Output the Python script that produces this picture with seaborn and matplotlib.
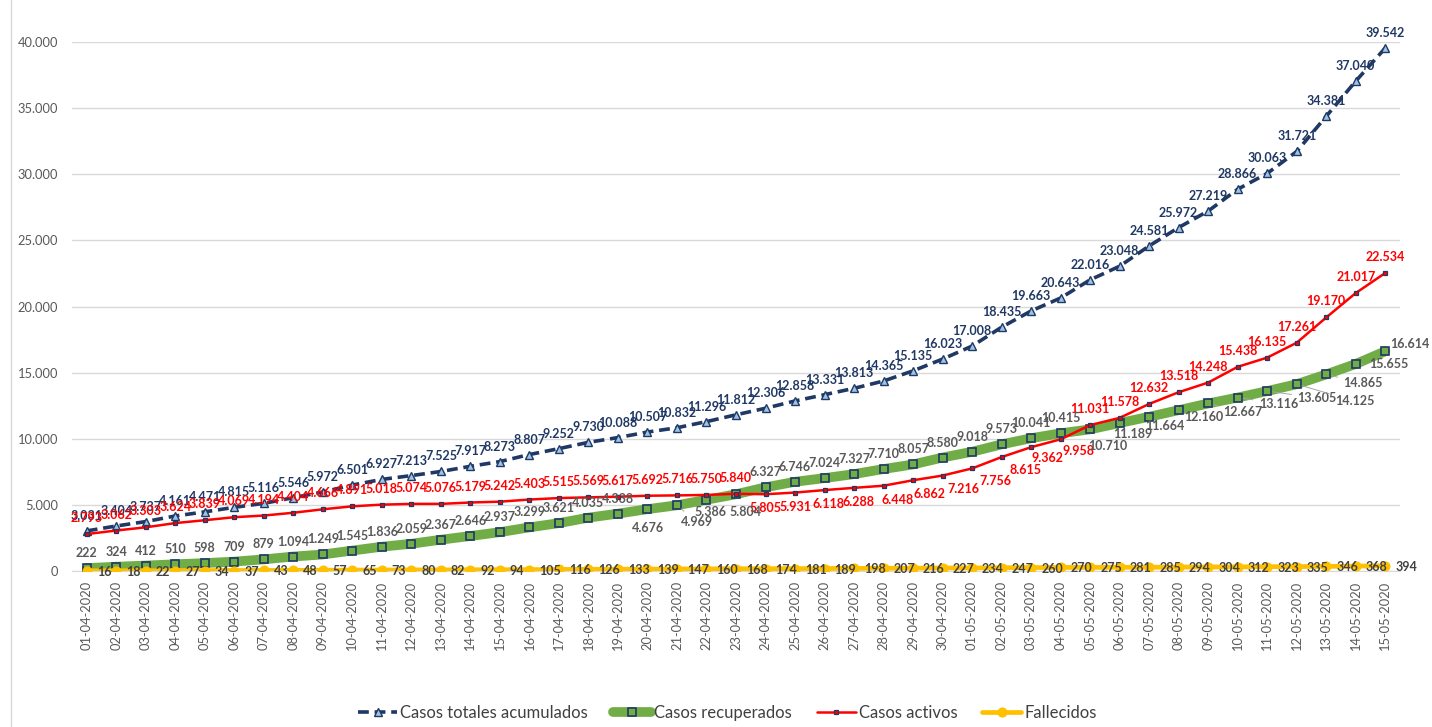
import numpy as np
import pandas as pd
import matplotlib
matplotlib.use("Agg")
import matplotlib.pyplot as plt
from matplotlib.lines import Line2D
import seaborn as sns

# Datos (01-04-2020 a 15-05-2020)
fechas = pd.date_range("2020-04-01", "2020-05-15").strftime("%d-%m-%Y").tolist()

casos_totales = [3031, 3404, 3737, 4161, 4471, 4815, 5116, 5546, 5972, 6501,
                 6927, 7213, 7525, 7917, 8273, 8807, 9252, 9730, 10088, 10507,
                 10832, 11296, 11812, 12306, 12858, 13331, 13813, 14365, 15135, 16023,
                 17008, 18435, 19663, 20643, 22016, 23048, 24581, 25972, 27219, 28866,
                 30063, 31721, 34381, 37040, 39542]
casos_recuperados = [222, 324, 412, 510, 598, 709, 879, 1094, 1249, 1545,
                     1836, 2059, 2367, 2646, 2937, 3299, 3621, 4035, 4338, 4676,
                     4969, 5386, 5804, 6327, 6746, 7024, 7327, 7710, 8057, 8580,
                     9018, 9573, 10041, 10415, 10710, 11189, 11664, 12160, 12667, 13116,
                     13605, 14125, 14865, 15655, 16614]
casos_activos = [2793, 3062, 3303, 3624, 3839, 4069, 4194, 4404, 4666, 4891,
                 5018, 5074, 5076, 5179, 5242, 5403, 5515, 5569, 5617, 5692,
                 5716, 5750, 5840, 5805, 5931, 6118, 6288, 6448, 6862, 7216,
                 7756, 8615, 9362, 9958, 11031, 11578, 12632, 13518, 14248, 15438,
                 16135, 17261, 19170, 21017, 22534]
fallecidos = [16, 18, 22, 27, 34, 37, 43, 48, 57, 65,
              73, 80, 82, 92, 94, 105, 116, 126, 133, 139,
              147, 160, 168, 174, 181, 189, 198, 207, 216, 227,
              234, 247, 260, 270, 275, 281, 285, 294, 304, 312,
              323, 335, 346, 368, 394]

NAVY = "#1F3864"
GREEN = "#70AD47"
RED = "#FF0000"
GOLD = "#FFC000"
GREY = "#595959"

sns.set_style("white")
plt.rcParams["font.family"] = ["Lato", "DejaVu Sans"]

fig = plt.figure(figsize=(14.32, 7.27), dpi=100)
ax = fig.add_axes([72 / 1432, 1 - 571 / 727, 1328 / 1432, 529 / 727])

x = np.arange(len(fechas))

sns.lineplot(x=x, y=casos_totales, ax=ax, color=NAVY, linewidth=2.6,
             linestyle=(0, (3, 1.6)), marker="^", markersize=5.5,
             markerfacecolor="#9DC3E6", markeredgecolor=NAVY, markeredgewidth=1,
             label="Casos totales acumulados", zorder=2)
sns.lineplot(x=x, y=casos_recuperados, ax=ax, color=GREEN, linewidth=7,
             marker="s", markersize=5.2, markerfacecolor=GREEN,
             markeredgecolor=NAVY, markeredgewidth=1.2,
             label="Casos recuperados", zorder=3)
sns.lineplot(x=x, y=casos_activos, ax=ax, color=RED, linewidth=1.8,
             marker="s", markersize=3.2, markerfacecolor=RED,
             markeredgecolor=NAVY, markeredgewidth=0.9,
             label="Casos activos", zorder=4)
sns.lineplot(x=x, y=fallecidos, ax=ax, color=GOLD, linewidth=3.4,
             marker="o", markersize=6.5, markerfacecolor=GOLD,
             markeredgecolor=GOLD, label="Fallecidos", zorder=5)


def fmt(v):
    return f"{v:,}".replace(",", ".")


lab_kw = dict(textcoords="offset pixels", fontsize=9.0, fontweight="bold", zorder=10)
leader = dict(arrowstyle="-", color="#A6A6A6", lw=0.7, shrinkA=2, shrinkB=4)

# etiquetas totales: arriba
for i, v in enumerate(casos_totales):
    ax.annotate(fmt(v), (i, v), xytext=(0, 15), ha="center", va="center",
                color=NAVY, **lab_kw)

# etiquetas activos
act_off = {23: (0, -14), 24: (0, -14), 25: (4, -14), 26: (4, -14),
           27: (14, -14), 28: (16, -14), 29: (21, -13), 30: (23, -13),
           31: (24, -13), 32: (16, -11), 33: (18, -12)}
for i, v in enumerate(casos_activos):
    off = act_off.get(i, (0, 16))
    ax.annotate(fmt(v), (i, v), xytext=off, ha="center", va="center",
                color=RED, **lab_kw)

# etiquetas recuperados
rec_off = {19: (0, -19), 20: (20, -17), 21: (4, -12), 22: (10, -18),
           34: (18, -17), 35: (13, -11), 36: (16, -9), 37: (25, -7),
           38: (35, -9), 39: (41, -6), 40: (50, -7), 41: (58, -17),
           42: (37, -9), 43: (33, 0), 44: (25, 7)}
for i, v in enumerate(casos_recuperados):
    off = rec_off.get(i, (0, 15))
    arrow = leader if i in (20, 38, 39, 40, 41, 42, 43) else None
    ax.annotate(fmt(v), (i, v), xytext=off, ha="center", va="center",
                color=GREY, arrowprops=arrow, **lab_kw)

# etiquetas fallecidos: a la derecha
for i, v in enumerate(fallecidos):
    ax.annotate(fmt(v), (i, v), xytext=(10, -1), ha="left", va="center",
                color="#404040", **lab_kw)

ax.set_xlim(-0.5, len(fechas) - 0.5)
ax.set_ylim(0, 40000)
ax.set_yticks(np.arange(0, 40001, 5000))
ax.set_yticklabels([fmt(int(t)) for t in np.arange(0, 40001, 5000)],
                   fontsize=9.3, color=GREY)
ax.set_xticks(x)
ax.set_xticklabels(fechas, rotation=90, fontsize=9.3, color=GREY)
ax.tick_params(axis="y", length=0, pad=10)
ax.tick_params(axis="x", length=4, color="#D9D9D9", pad=3)
ax.yaxis.grid(True, color="#D9D9D9", linewidth=1)
ax.set_axisbelow(True)
for s in ["top", "right", "left"]:
    ax.spines[s].set_visible(False)
ax.spines["bottom"].set_color("#D9D9D9")
ax.set_xlabel("")
ax.set_ylabel("")

handles, labels = ax.get_legend_handles_labels()
ax.legend_.remove()
fig.legend(handles, labels, loc="center", bbox_to_anchor=(0.508, 0.019),
           ncol=4, frameon=False, fontsize=12, handlelength=2.3,
           handletextpad=0.2, columnspacing=1.5, labelcolor="#404040")

fig.add_artist(Line2D([11 / 1432, 11 / 1432], [0, 1], color="#D9D9D9", linewidth=1))

fig.savefig("out.png", dpi=100)
